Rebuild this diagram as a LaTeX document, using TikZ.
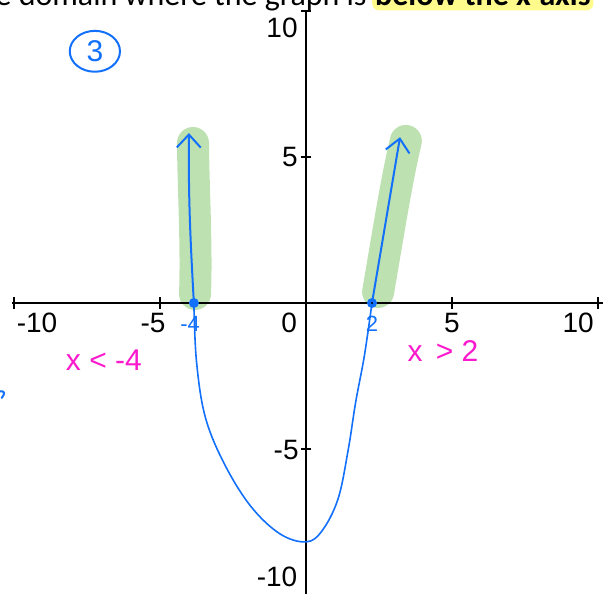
\documentclass[tikz,border=0pt]{standalone}
\usepackage{fontspec}
\setmainfont{Liberation Sans}
\newfontfamily\notefont{Carlito}
\usetikzlibrary{arrows.meta,positioning,calc}
\definecolor{penBlue}{RGB}{18,112,250}
\definecolor{penPink}{RGB}{250,25,205}
\definecolor{bandGreen}{RGB}{190,225,178}
\definecolor{markYellow}{RGB}{255,250,140}
\newcommand{\tickx}[1]{\draw[black,line width=1.8pt] (#1,-0.19) -- (#1,0.19);}
\newcommand{\ticky}[1]{\draw[black,line width=1.8pt] (-0.16,#1) -- (0.16,#1);}
\tikzset{
  axisline/.style={line width=2.5pt,black},
  ticklbl/.style={font=\fontsize{28}{30}\selectfont,inner sep=0pt},
  band/.style={bandGreen,line width=32pt,line cap=round},
  pen/.style={penBlue,line width=2pt,line cap=round,line join=round},
  dotmark/.style={circle,fill=penBlue,inner sep=0pt,minimum size=10pt},
  pinknote/.style={penPink,font=\fontsize{30}{32}\selectfont,inner sep=0pt},
  bluenote/.style={penBlue,font=\fontsize{22}{24}\selectfont,inner sep=0pt},
}

\begin{document}
\begin{tikzpicture}[x=29.2pt,y=29.2pt]
\useasboundingbox (-10.479,-9.932) rectangle (10.171,10.377);
% heading (cut off at the top)
\node[font=\notefont\fontsize{32}{34}\selectfont,anchor=base east,inner sep=0pt] (domtxt) at (2.08,10.2) {e domain where the graph is};
\node[font=\notefont\bfseries\fontsize{32}{34}\selectfont,anchor=base west,fill=markYellow,rounded corners=7pt,inner xsep=3pt,inner ysep=5pt] (hltxt) at (2.26,10.2) {below the x-axis};
% highlighted parts of the graph
\draw[band] (-3.80,0.31) .. controls (-3.74,2.0) and (-3.86,4.0) .. (-3.87,5.48);
\draw[band] (2.47,0.38) .. controls (2.85,2.6) and (3.10,4.2) .. (3.42,5.55);
% axes
\draw[axisline] (-10.07,0) -- (10.3,0);
\draw[axisline] (0,10) -- (0,-10.2);
\foreach \t in {-10,-5,5,10} {\tickx{\t}}
\foreach \t in {10,5,-5} {\ticky{\t}}
\node[ticklbl] (xm10) at (-9.21,-0.68) {-10};
\node[ticklbl] (xm5) at (-5.24,-0.68) {-5};
\node[ticklbl] (xz) at (-0.58,-0.68) {0};
\node[ticklbl] (xp5) at (5.0,-0.68) {5};
\node[ticklbl] (xp10) at (9.32,-0.68) {10};
\node[ticklbl] (yp10) at (-0.82,9.42) {10};
\node[ticklbl] (yp5) at (-0.55,5.0) {5};
\node[ticklbl] (ym5) at (-0.68,-5.03) {-5};
\node[ticklbl] (ym10) at (-0.99,-9.38) {-10};
% the sketched curve
\coordinate (lroot) at (-3.84,0);
\coordinate (rroot) at (2.26,0);
\coordinate (ltip) at (-4.01,5.82);
\coordinate (rtip) at (3.22,5.68);
\draw[pen,line width=1.6pt] plot[smooth,tension=0.6] coordinates {(-3.84,0) (-3.75,-2.0) (-3.45,-3.9) (-2.8,-5.5) (-1.9,-6.95) (-0.9,-7.9) (0,-8.18) (0.55,-7.8) (1.1,-6.7) (1.45,-5.0) (1.7,-3.4) (2.0,-1.8) (2.26,0)};
\draw[pen,-{Straight Barb[length=13pt,width=24pt,line width=2pt]}] (lroot) .. controls (-3.95,2.0) and (-4.03,3.5) .. (ltip);
\draw[pen,-{Straight Barb[length=13pt,width=24pt,line width=2pt]}] (rroot) -- (rtip);
\node[dotmark] (ldot) at (lroot) {};
\node[dotmark] (rdot) at (rroot) {};
\fill[black] (rroot) circle (1.2pt);
% handwritten notes
\node[bluenote] (lroottxt) at (-3.97,-0.7) {-4};
\node[bluenote] (rroottxt) at (2.26,-0.7) {2};
\node[pinknote] (lsol) at (-6.92,-1.95) {x < -4};
\node[pinknote] (rsol) at (4.69,-1.64) {x \,> 2};
\node[penBlue,font=\fontsize{30}{32}\selectfont,inner sep=0pt] (three) at (-7.23,8.62) {3};
\draw[pen] (three.center) ellipse [x radius=0.86,y radius=0.7];
\draw[pen] (-10.5,-3.02) .. controls (-10.3,-3.0) and (-10.3,-3.1) .. (-10.42,-3.25);
\end{tikzpicture}
\end{document}
